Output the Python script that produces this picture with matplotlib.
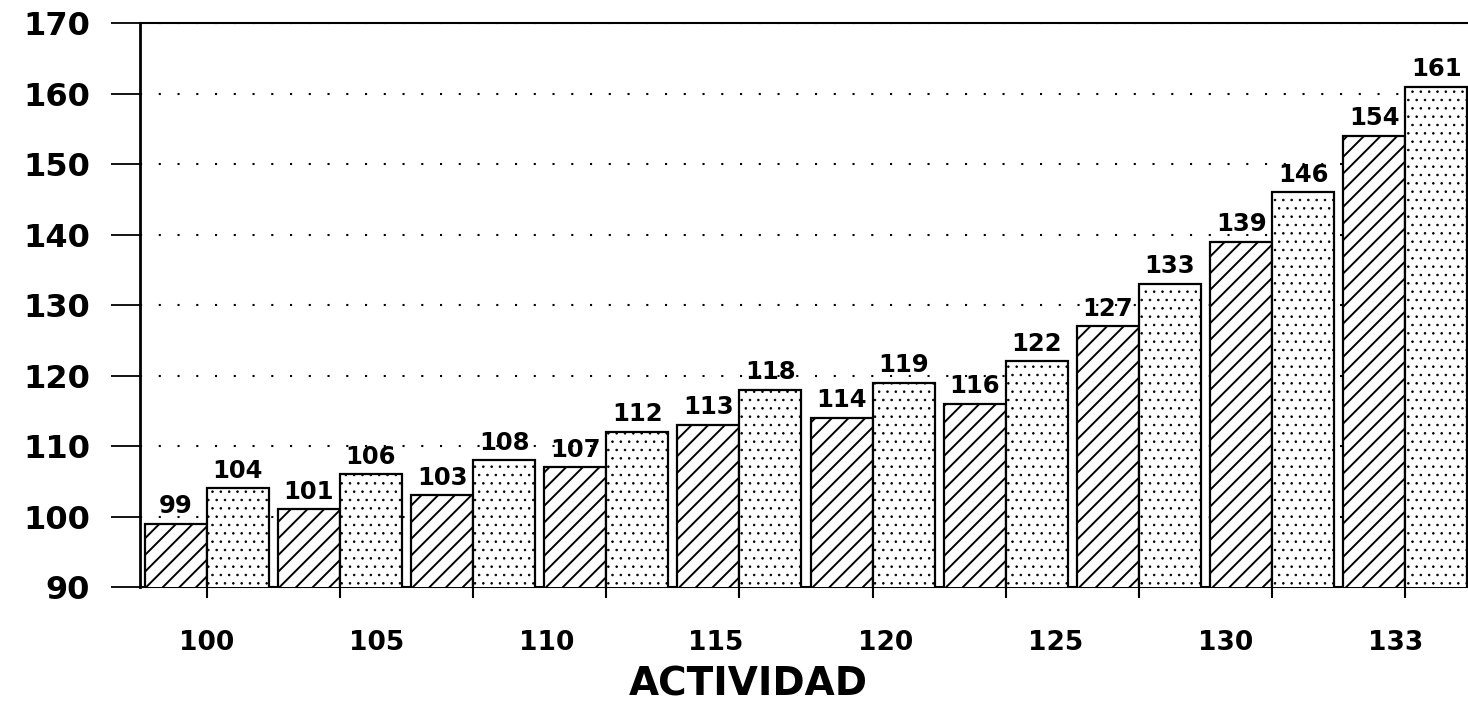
import numpy as np
import matplotlib
matplotlib.use("Agg")
import matplotlib.pyplot as plt

# values
serie_a = [99, 101, 103, 107, 113, 114, 116, 127, 139, 154]
serie_b = [104, 106, 108, 112, 118, 119, 122, 133, 146, 161]
etiquetas_x = ["100", "105", "110", "115", "120", "125", "130", "133"]
ticks_y = [90, 100, 110, 120, 130, 140, 150, 160, 170]

plt.rcParams["font.family"] = "DejaVu Sans"

fig = plt.figure(figsize=(14.68, 7.03), dpi=100)
ax = fig.add_axes([0.0954, 0.165, 0.9046, 0.802])

x = np.arange(len(serie_a))
w = 0.465
plt.rcParams["hatch.linewidth"] = 1.4
ax.bar(x - w / 2, serie_a, w, color="white", edgecolor="black",
       linewidth=1.6, hatch="//", zorder=3)
plt.rcParams["hatch.linewidth"] = 0.6
ax.bar(x + w / 2, serie_b, w, color="white", edgecolor="black",
       linewidth=1.6, hatch="..", zorder=3)

for i in range(len(x)):
    ax.annotate(str(serie_a[i]), (x[i] - w / 2, serie_a[i]), xytext=(0, 4),
                textcoords="offset points", ha="center", va="bottom",
                fontsize=17.5, fontweight="bold", zorder=4)
    ax.annotate(str(serie_b[i]), (x[i] + w / 2, serie_b[i]), xytext=(0, 4),
                textcoords="offset points", ha="center", va="bottom",
                fontsize=17.5, fontweight="bold", zorder=4)

ax.set_ylim(90, 170)
ax.set_xlim(-0.5, 9.47)
ax.set_yticks(ticks_y)
ax.set_yticklabels([str(t) for t in ticks_y], fontsize=23, fontweight="bold")
ax.tick_params(axis="y", length=21, width=1.3, pad=15)

# tick marks at group centres, labels spread evenly as in the original
ax.xaxis.remove_overlapping_locs = False
ax.set_xticks(x)
ax.set_xticklabels([""] * len(x))
ax.tick_params(axis="x", which="major", length=8, width=1.5)
pos_lab = np.arange(len(etiquetas_x)) * 1.275
ax.set_xticks(pos_lab, minor=True)
ax.set_xticklabels(etiquetas_x, minor=True, fontsize=19, fontweight="bold")
ax.tick_params(axis="x", which="minor", length=0, pad=31)

ax.yaxis.grid(True, color="black", linestyle=(0, (1, 8)), linewidth=1.5)
ax.set_axisbelow(True)

ax.spines["right"].set_visible(False)
ax.spines["left"].set_linewidth(2)
ax.spines["bottom"].set_linewidth(1.5)
ax.spines["top"].set_linewidth(1.5)

fig.text(0.51, 0.026, "ACTIVIDAD", ha="center", va="center",
         fontsize=28, fontweight="bold")

fig.savefig("out.png", dpi=100)
